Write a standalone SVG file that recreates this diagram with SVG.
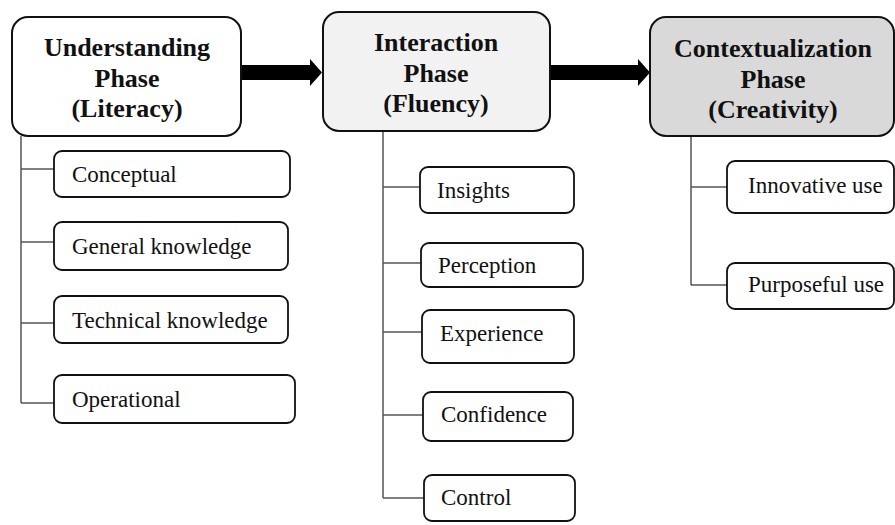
<svg xmlns="http://www.w3.org/2000/svg" width="895" height="525" viewBox="0 0 895 525">
<style>
.ph{stroke:#111;stroke-width:2}
.ch{fill:#fff;stroke:#111;stroke-width:1.8}
.ht{font-family:"Liberation Serif","Times New Roman",serif;font-weight:bold;font-size:26px;fill:#111;text-anchor:middle}
.ct{font-family:"Liberation Serif","Times New Roman",serif;font-size:23px;fill:#111}
.ln{fill:none;stroke:#555;stroke-width:1.5}
</style>
<rect width="895" height="525" fill="#fff"/>
<g id="connectors">
<polygon points="241,65 310,65 310,59 322,72.5 310,86 310,80 241,80" fill="#000"/>
<polygon points="550,65 638,65 638,59 650,72.5 638,86 638,80 550,80" fill="#000"/>
<path class="ln" d="M21,136 V403 M21,169 H54 M21,242 H54 M21,323 H54 M21,403 H54"/>
<path class="ln" d="M383,131 V498 M383,187 H420 M383,263 H421 M383,332 H422 M383,415 H423 M383,498 H424"/>
<path class="ln" d="M691,136 V285 M691,187 H727 M691,285 H727"/>
</g>
<g id="understanding">
<rect class="ph" x="12" y="17" width="229" height="119" rx="16" fill="#fff"/>
<text class="ht" x="127" y="55.5">Understanding</text>
<text class="ht" x="127" y="86.5">Phase</text>
<text class="ht" x="127" y="116.5">(Literacy)</text>
</g>
<g id="interaction">
<rect class="ph" x="323" y="12" width="227" height="119" rx="16" fill="#f2f2f2"/>
<text class="ht" x="436" y="50.5">Interaction</text>
<text class="ht" x="436" y="81.5">Phase</text>
<text class="ht" x="436" y="111.5">(Fluency)</text>
</g>
<g id="contextualization">
<rect class="ph" x="650" y="17" width="244" height="119" rx="16" fill="#d9d9d9"/>
<text class="ht" x="773" y="56.5">Contextualization</text>
<text class="ht" x="773" y="87.5">Phase</text>
<text class="ht" x="773" y="117.5">(Creativity)</text>
</g>
<g id="conceptual"><rect class="ch" x="54" y="151" width="236" height="46" rx="8"/><text class="ct" x="72" y="182">Conceptual</text></g>
<g id="general"><rect class="ch" x="54" y="222" width="234" height="48" rx="8"/><text class="ct" x="72" y="254">General knowledge</text></g>
<g id="technical"><rect class="ch" x="54" y="296" width="234" height="47" rx="8"/><text class="ct" x="72" y="328">Technical knowledge</text></g>
<g id="operational"><rect class="ch" x="54" y="375" width="241" height="48" rx="8"/><text class="ct" x="72" y="407">Operational</text></g>
<g id="insights"><rect class="ch" x="420" y="167" width="154" height="46" rx="8"/><text class="ct" x="437" y="198">Insights</text></g>
<g id="perception"><rect class="ch" x="421" y="243" width="162" height="44" rx="8"/><text class="ct" x="438" y="273">Perception</text></g>
<g id="experience"><rect class="ch" x="422" y="310" width="152" height="53" rx="8"/><text class="ct" x="440" y="341">Experience</text></g>
<g id="confidence"><rect class="ch" x="423" y="392" width="150" height="49" rx="8"/><text class="ct" x="441" y="422">Confidence</text></g>
<g id="control"><rect class="ch" x="424" y="475" width="151" height="46" rx="8"/><text class="ct" x="441" y="505">Control</text></g>
<g id="innovative"><rect class="ch" x="727" y="161" width="167" height="52" rx="8"/><text class="ct" x="748" y="193">Innovative use</text></g>
<g id="purposeful"><rect class="ch" x="727" y="263" width="167" height="46" rx="8"/><text class="ct" x="748" y="292">Purposeful use</text></g>
</svg>
